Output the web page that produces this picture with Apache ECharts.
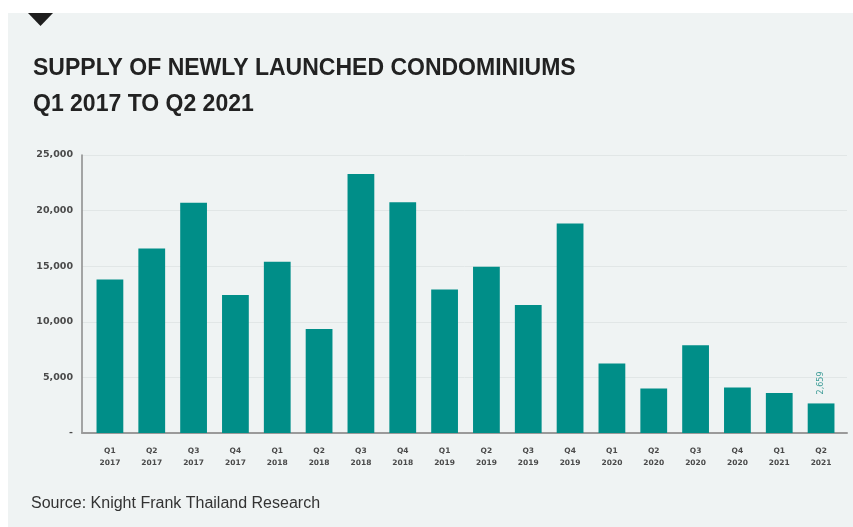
<!DOCTYPE html>
<html>
<head>
<meta charset="utf-8">
<title>Supply of newly launched condominiums</title>
<style>
  body { margin: 0; background: #fff; }
  #main { width: 853px; height: 527px; }
</style>
</head>
<body>
<div id="main"></div>
<script src="https://cdn.jsdelivr.net/npm/echarts@6/dist/echarts.min.js"></script>
<script>
// quarters on the x axis
var quarters = ['Q1\n2017','Q2\n2017','Q3\n2017','Q4\n2017',
                'Q1\n2018','Q2\n2018','Q3\n2018','Q4\n2018',
                'Q1\n2019','Q2\n2019','Q3\n2019','Q4\n2019',
                'Q1\n2020','Q2\n2020','Q3\n2020','Q4\n2020',
                'Q1\n2021','Q2\n2021'];
// units launched
var supply = [13800, 16600, 20700, 12400, 15400, 9350, 23300, 20750, 12900,
              14950, 11500, 18850, 6250, 4000, 7900, 4100, 3600, 2659];
var yMin = 0, yMax = 25000, yStep = 5000;

var teal = '#008e88';
var labelFont = 'DejaVu Sans';

var chart = echarts.init(document.getElementById('main'));

// only the latest quarter carries a value label
var barData = supply.map(function (v, i) {
  if (i === supply.length - 1) {
    return {
      value: v,
      label: {
        show: true, position: 'top', rotate: 90, align: 'left', verticalAlign: 'middle',
        distance: 9, color: '#3d9c97', fontFamily: labelFont, fontSize: 8,
        formatter: function (p) { return p.value.toLocaleString('en-US'); }
      }
    };
  }
  return v;
});

var option = {
  backgroundColor: '#ffffff',
  animation: false,
  graphic: [
    { type: 'rect', z: -10, shape: { x: 8, y: 13, width: 845, height: 514 }, style: { fill: '#eff3f3' } },
    { type: 'polygon', z: 10, shape: { points: [[28, 13], [53, 13], [40.5, 26]] }, style: { fill: '#1e1e1e' } }
  ],
  title: [
    {
      text: 'SUPPLY OF NEWLY LAUNCHED CONDOMINIUMS\nQ1 2017 TO Q2 2021',
      left: 28, top: 46,
      textStyle: { fontFamily: 'Liberation Sans', fontWeight: 'bold', fontSize: 23, lineHeight: 36, color: '#222222' }
    },
    {
      text: 'Source: Knight Frank Thailand Research',
      left: 26, top: 491,
      textStyle: { fontFamily: 'Liberation Sans', fontWeight: 'normal', fontSize: 16, color: '#333333' }
    }
  ],
  grid: [
    { left: 89, right: 11, top: 155, bottom: 94 },
    { left: 82, right: 6, top: 155, bottom: 94 }
  ],
  xAxis: [
    {
      type: 'category', gridIndex: 0, data: quarters,
      axisLine: { show: false }, axisTick: { show: false },
      axisLabel: { margin: 12, interval: 0, fontFamily: labelFont, fontWeight: 'bold', fontSize: 7.5, lineHeight: 12, color: '#4a4a4a' }
    },
    {
      type: 'value', gridIndex: 1, min: 0, max: 1,
      axisLine: { show: true, lineStyle: { color: '#9a9a9a', width: 2 } },
      axisTick: { show: false }, axisLabel: { show: false }, splitLine: { show: false }
    }
  ],
  yAxis: [
    { type: 'value', gridIndex: 0, min: yMin, max: yMax, interval: yStep, show: false, splitLine: { show: false } },
    {
      type: 'value', gridIndex: 1, min: yMin, max: yMax, interval: yStep,
      axisLine: { show: true, lineStyle: { color: '#8a8a8a', width: 1.5 } },
      axisTick: { show: false },
      splitLine: { show: true, lineStyle: { color: '#e1e6e6', width: 1 } },
      axisLabel: {
        margin: 9, fontFamily: labelFont, fontWeight: 'bold', fontSize: 9.5, color: '#4a4a4a',
        formatter: function (v) { return v === 0 ? '-' : v.toLocaleString('en-US'); }
      }
    }
  ],
  series: [{
    type: 'bar', xAxisIndex: 0, yAxisIndex: 0,
    data: barData, barWidth: '64%',
    itemStyle: { color: teal }
  }]
};

chart.setOption(option);
</script>
</body>
</html>
